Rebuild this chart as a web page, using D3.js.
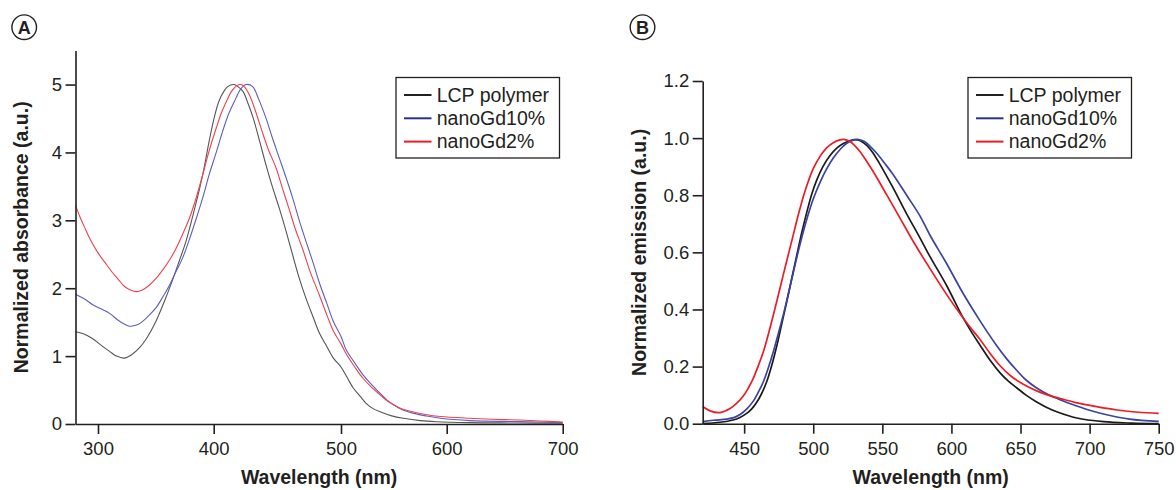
<!DOCTYPE html>
<html><head><meta charset="utf-8">
<script src="https://cdn.jsdelivr.net/npm/d3@7"></script>
<style>
body{margin:0;background:#fff}
svg{display:block}
text{font-family:"Liberation Sans",Arial,Helvetica,sans-serif;fill:#231f20}
</style>
</head><body>
<svg id="c" width="1176" height="490"></svg>
<script>
// ---------- data ----------
const seriesNames = ["LCP polymer", "nanoGd10%", "nanoGd2%"];
const panelLabels = ["A", "B"];
const absTicksX = [300, 400, 500, 600, 700];
const absTicksY = [0, 1, 2, 3, 4, 5];
const emTicksX = [450, 500, 550, 600, 650, 700, 750];
const emTicksY = [0, 0.2, 0.4, 0.6, 0.8, 1.0, 1.2];
const xTitle = "Wavelength (nm)";
const absTitle = "Normalized absorbance (a.u.)";
const emTitle = "Normalized emission (a.u.)";

// Panel A: absorbance [wavelength nm, value]
const absLCP = [[280,1.36],[287,1.33],[295,1.26],[302,1.17],[310,1.07],[316,1.0],[322.7,0.97],[329,1.02],[335.7,1.12],[343,1.29],[350,1.51],[357,1.79],[364,2.10],[370,2.39],[376,2.69],[382,3.07],[388,3.48],[392,3.80],[396,4.16],[400,4.48],[404,4.75],[408,4.90],[411,4.97],[416,5.0],[419,4.97],[423,4.90],[427,4.72],[431,4.51],[436,4.17],[441,3.82],[446,3.50],[451.5,3.18],[457,2.83],[462,2.49],[467,2.16],[472.5,1.85],[478,1.58],[483,1.34],[488,1.17],[494,0.97],[500,0.84],[506,0.68],[511.6,0.53],[518,0.41],[524,0.30],[530,0.23],[537,0.18],[548,0.12],[559,0.084],[575,0.05],[590,0.034],[620,0.02],[660,0.015],[700,0.01]];
const absGd10 = [[280,1.91],[288,1.84],[295,1.76],[302,1.70],[310,1.63],[318,1.52],[323,1.47],[327,1.44],[332,1.45],[337,1.49],[343,1.58],[350,1.71],[356,1.87],[362,2.05],[367,2.23],[373,2.44],[379,2.72],[385,3.03],[391,3.36],[396,3.67],[402,4.00],[407,4.31],[412,4.58],[417.5,4.80],[421,4.93],[425.4,5.0],[430.6,4.97],[435,4.80],[441,4.51],[446,4.22],[451.5,3.92],[457,3.62],[462,3.33],[467,3.01],[472.5,2.69],[478,2.38],[483,2.08],[489,1.77],[494,1.51],[500,1.29],[505,1.09],[513,0.90],[521,0.72],[529,0.58],[537,0.45],[543,0.36],[550,0.28],[558,0.21],[568,0.16],[580,0.12],[594,0.084],[620,0.05],[663,0.035],[700,0.02]];
const absGd2 = [[280,3.22],[284,3.05],[288,2.90],[293,2.72],[300,2.52],[306,2.38],[313,2.22],[318,2.12],[322,2.04],[327,1.98],[333,1.95],[338,1.97],[344,2.04],[350,2.14],[356,2.27],[362,2.42],[367,2.57],[373,2.79],[379,3.03],[385,3.34],[390.5,3.67],[396,4.02],[402,4.36],[406,4.58],[410,4.75],[414,4.90],[418,4.98],[421.4,5.0],[424.5,4.96],[428,4.85],[433,4.60],[438,4.31],[443,4.04],[449,3.77],[454,3.47],[459,3.18],[464,2.88],[470,2.57],[476,2.23],[483,1.90],[489,1.60],[494,1.37],[500,1.18],[505,1.03],[513,0.84],[521,0.67],[529,0.54],[537,0.43],[543,0.35],[550,0.28],[558,0.22],[568,0.18],[580,0.14],[594,0.11],[620,0.084],[640,0.07],[663,0.058],[680,0.045],[700,0.03]];

// Panel B: emission [wavelength nm, value]
const emLCP = [[420,0.0],[432.5,0.005],[442,0.013],[447,0.022],[451.8,0.036],[455.5,0.052],[459,0.074],[462.5,0.104],[466.3,0.147],[470,0.205],[473.6,0.272],[477,0.345],[480.8,0.427],[484.5,0.51],[488,0.588],[491.5,0.665],[495.3,0.74],[499,0.805],[502.5,0.853],[507,0.9],[512,0.938],[517,0.965],[521.8,0.981],[526,0.99],[530,0.995],[534,0.991],[538.7,0.975],[543,0.95],[548.3,0.908],[553,0.868],[558,0.824],[567.6,0.735],[577.3,0.65],[584.5,0.585],[596.6,0.483],[607.4,0.38],[614,0.325],[620.7,0.275],[628,0.222],[635.2,0.178],[641,0.15],[647.2,0.126],[654,0.1],[661.7,0.076],[669,0.057],[676.2,0.042],[690.7,0.02],[710,0.007],[730,0.002],[750,0.0]];
const emGd10 = [[420,0.007],[427.7,0.012],[437.4,0.016],[443,0.022],[447,0.032],[452,0.052],[456.6,0.079],[460,0.108],[463.9,0.147],[467.5,0.196],[471.1,0.252],[474.7,0.315],[478.3,0.381],[482,0.455],[485.6,0.53],[489,0.6],[492.8,0.672],[496.5,0.735],[500,0.787],[505,0.846],[509.7,0.892],[514.5,0.93],[519.4,0.96],[524,0.981],[529,0.993],[533,0.995],[537,0.988],[541,0.972],[545.9,0.947],[552,0.91],[557.9,0.872],[567.6,0.8],[577.3,0.727],[584.5,0.66],[596.6,0.56],[608.6,0.455],[620.7,0.36],[632.8,0.273],[640,0.227],[647.2,0.187],[654,0.153],[661.7,0.125],[670,0.102],[679,0.083],[690.7,0.062],[700,0.047],[710,0.034],[729,0.016],[750,0.008]];
const emGd2 = [[420,0.06],[425.3,0.045],[432.5,0.039],[439.8,0.053],[444.5,0.071],[449.4,0.097],[453,0.125],[456.6,0.159],[460,0.2],[463.9,0.252],[467.5,0.313],[471.1,0.38],[474.7,0.45],[478.3,0.521],[482,0.593],[485.6,0.662],[489,0.728],[492.8,0.795],[496.5,0.85],[500,0.893],[505,0.937],[509.7,0.966],[514.5,0.984],[519.4,0.994],[523,0.995],[526.6,0.988],[530,0.974],[533.8,0.953],[538.5,0.92],[543.5,0.882],[553.2,0.801],[562.8,0.72],[572.4,0.638],[584.5,0.543],[596.6,0.452],[607.4,0.377],[614,0.335],[620.7,0.295],[628,0.246],[635.2,0.203],[643,0.167],[652,0.138],[661.7,0.115],[670,0.1],[681,0.085],[690,0.074],[705,0.06],[720,0.048],[735,0.04],[750,0.036]];

// ---------- drawing ----------
const svg = d3.select("#c");
const ink = "#231f20";

const panels = [
  {
    label: panelLabels[0], lx: 24.2, ly: 27.2,
    x: d3.scaleLinear().domain([280, 300, 400, 500, 600, 700]).range([75.5, 98, 213.7, 341, 446.7, 562.7]),
    y: d3.scaleLinear().domain([0, 5.5]).range([424, 50.6]),
    tx: absTicksX, ty: absTicksY, fy: d3.format("d"),
    ytitle: absTitle, ytx: 27.5,
    series: [absLCP, absGd10, absGd2],
    colors: ["#555555", "#5b5fbd", "#f0414d"], width: 1.1,
    legend: {x: 396, y: 77.5, w: 163.5, h: 80.5}
  },
  {
    label: panelLabels[1], lx: 642.5, ly: 27.2,
    x: d3.scaleLinear().domain([420, 750]).range([702.7, 1158.7]),
    y: d3.scaleLinear().domain([0, 1.2]).range([423.7, 81]),
    tx: emTicksX, ty: emTicksY, fy: d3.format(".1f"),
    ytitle: emTitle, ytx: 646,
    series: [emLCP, emGd10, emGd2],
    colors: ["#1a1a1a", "#3a449e", "#ec1c26"], width: 1.7,
    legend: {x: 968, y: 77.5, w: 163.5, h: 80.5}
  }
];
const legendColors = ["#231f20", "#2e3192", "#ed1c24"];

panels.forEach(p => {
  const g = svg.append("g");
  const line = d3.line().x(d => p.x(d[0])).y(d => p.y(d[1])).curve(d3.curveCatmullRom.alpha(0.5));

  // series
  p.series.forEach((s, i) => {
    g.append("path").datum(s).attr("d", line)
      .attr("fill", "none").attr("stroke", p.colors[i])
      .attr("stroke-width", p.width).attr("stroke-linejoin", "round");
  });

  // axes
  const [x0, x1] = [p.x.range()[0], p.x.range()[p.x.range().length - 1]];
  const yb = p.y.range()[0];
  const xa = g.append("g").attr("transform", `translate(0,${yb})`)
    .call(d3.axisBottom(p.x).tickValues(p.tx).tickSize(10).tickPadding(8).tickSizeOuter(0).tickFormat(d3.format("d")));
  const ya = g.append("g").attr("transform", `translate(${x0},0)`)
    .call(d3.axisLeft(p.y).tickValues(p.ty).tickSize(10).tickPadding(3.5).tickSizeOuter(0).tickFormat(p.fy));
  [xa, ya].forEach(a => {
    a.attr("font-size", null).attr("font-family", null);
    a.selectAll("path,line").attr("stroke", ink).attr("stroke-width", 1.6);
    a.selectAll("text").attr("font-size", "18.5px").style("fill", ink);
  });

  // titles
  g.append("text").attr("x", (x0 + x1) / 2).attr("y", 484)
    .attr("text-anchor", "middle").attr("font-weight", "bold").attr("font-size", "19.5px").text(xTitle);
  const yc = (p.y.range()[0] + p.y.range()[1]) / 2;
  g.append("text").attr("transform", `translate(${p.ytx},${yc}) rotate(-90)`)
    .attr("text-anchor", "middle").attr("font-weight", "bold").attr("font-size", "19.5px").text(p.ytitle);

  // panel label
  g.append("circle").attr("cx", p.lx).attr("cy", p.ly).attr("r", 12.3)
    .attr("fill", "none").attr("stroke", ink).attr("stroke-width", 1.4);
  g.append("text").attr("x", p.lx).attr("y", p.ly).attr("dy", "0.36em")
    .attr("text-anchor", "middle").attr("font-weight", "bold").attr("font-size", "18px").text(p.label);

  // legend
  const L = p.legend;
  g.append("rect").attr("x", L.x).attr("y", L.y).attr("width", L.w).attr("height", L.h)
    .attr("fill", "#fff").attr("stroke", ink).attr("stroke-width", 1.3);
  seriesNames.forEach((n, i) => {
    const ry = L.y + 17.5 + i * 23.3;
    g.append("line").attr("x1", L.x + 8).attr("x2", L.x + 35.5).attr("y1", ry).attr("y2", ry)
      .attr("stroke", legendColors[i]).attr("stroke-width", 2);
    g.append("text").attr("x", L.x + 40.7).attr("y", ry + 6.6)
      .attr("font-size", "19.5px").text(n);
  });
});
</script>
</body></html>
